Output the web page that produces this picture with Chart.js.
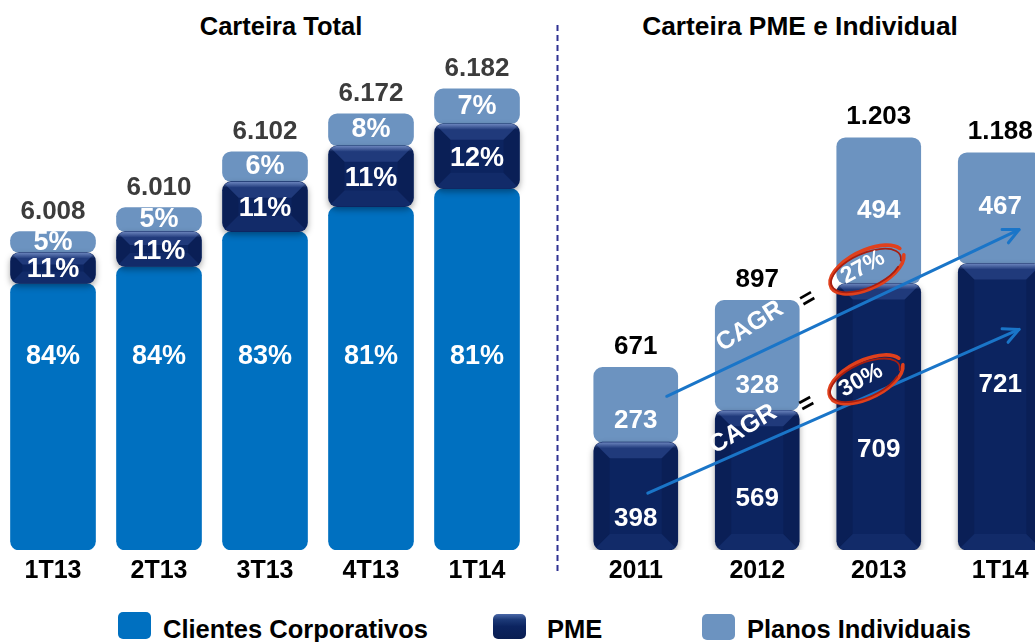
<!DOCTYPE html>
<html><head><meta charset="utf-8">
<script src="https://cdn.jsdelivr.net/npm/chart.js@4/dist/chart.umd.min.js"></script>
<style>
html,body{margin:0;padding:0;background:#fff;width:1035px;height:642px;overflow:hidden;position:relative;font-family:"Liberation Sans",Arial,sans-serif;}
.abs{position:absolute;}
#leftWrap{left:0;top:0;width:530px;height:592px;}
#rightWrap{left:575px;top:0;width:486px;height:592px;}
.title{font-weight:bold;font-size:25.5px;line-height:25px;color:#000;white-space:nowrap;transform:translateX(-50%);top:14px;}
.leg{font-weight:bold;font-size:25.5px;line-height:25px;top:617px;white-space:nowrap;color:#000;}
.box{border-radius:5px;}
</style></head><body>
<div class="abs title" style="left:281px">Carteira Total</div>
<div class="abs title" style="left:800px;font-size:26.3px">Carteira PME e Individual</div>
<div class="abs" id="leftWrap"><canvas id="left"></canvas></div>
<div class="abs" id="rightWrap"><canvas id="right"></canvas></div>
<svg class="abs" style="left:550px;top:0" width="16" height="600"><line x1="7.5" y1="25" x2="7.5" y2="572" stroke="#2e3192" stroke-width="2" stroke-dasharray="6 4"/></svg>
<div class="abs box" style="left:118px;top:612px;width:33px;height:27px;background:#0070C0"></div>
<div class="abs leg" style="left:163px">Clientes Corporativos</div>
<div class="abs box" style="left:493px;top:614px;width:33px;height:25px;background:linear-gradient(to bottom,#4a68a8 0,#1d3a78 22%,#0c2460 50%,#0a1e52 100%)"></div>
<div class="abs leg" style="left:547px">PME</div>
<div class="abs box" style="left:702px;top:614px;width:33px;height:26px;background:#6C93C0"></div>
<div class="abs leg" style="left:747px">Planos Individuais</div>
<script>
// ---------- data: Carteira Total ----------
const periodsTotal = ['1T13','2T13','3T13','4T13','1T14'];
const totalLabels = ['6.008','6.010','6.102','6.172','6.182'];
const corpPct = [84,84,83,81,81];
const pmePct = [11,11,11,11,12];
const indivPct = [5,5,6,8,7];
// bar lengths as drawn in the picture (the original bars are not to scale)
const corpLen = [53.4,56.8,63.8,68.8,72.4];
const pmeLenTotal = [6.2,7.0,10.0,12.2,13.0];
const indivLenTotal = [4.2,4.8,6.0,6.4,7.0];

// ---------- data: Carteira PME e Individual ----------
const periodsPme = ['2011','2012','2013','1T14'];
const pmeValues = [398,569,709,721];
const indivValues = [273,328,494,467];
const pmeLen = [21.6,28.0,53.4,57.4];
const indivLen = [15.0,22.0,29.2,22.2];
const cagrLabels = ['27%','30%'];

const COL_CORP = '#0070C0', COL_PME = '#0C2460', COL_IND = '#6C93C0';
const FONT = '"Liberation Sans", Arial, sans-serif';
const Y_MAX = 110.2;
const CORP_LABEL_LEVEL = 38.8;
// label nudges (px) for the right chart, as placed in the original
const labelNudge = { pme:[23,19,33,-22], indiv:[16,30,0,-1] };

function fmt(n){ return n>=1000 ? Math.floor(n/1000)+'.'+String(n%1000).padStart(3,'0') : String(n); }
function ranges(lens, below){ return lens.map((v,i)=>{ const b = below ? below.reduce((s,arr)=>s+arr[i],0) : 0; return [b, b+v]; }); }
function rr(ctx,x,y,w,h,r){ctx.beginPath();ctx.moveTo(x+r,y);ctx.arcTo(x+w,y,x+w,y+h,r);ctx.arcTo(x+w,y+h,x,y+h,r);ctx.arcTo(x,y+h,x,y,r);ctx.arcTo(x,y,x+w,y,r);ctx.closePath();}
function bevel(ctx,x,y,w,h,r){
  ctx.save(); rr(ctx,x,y,w,h,r); ctx.clip();
  const k=Math.min(16,h/2.6);
  ctx.fillStyle='rgba(80,110,185,0.30)';
  ctx.beginPath();ctx.moveTo(x,y);ctx.lineTo(x+w,y);ctx.lineTo(x+w-k,y+k);ctx.lineTo(x+k,y+k);ctx.closePath();ctx.fill();
  ctx.fillStyle='rgba(0,0,25,0.13)';
  ctx.beginPath();ctx.moveTo(x,y);ctx.lineTo(x+k,y+k);ctx.lineTo(x+k,y+h-k);ctx.lineTo(x,y+h);ctx.closePath();ctx.fill();
  ctx.beginPath();ctx.moveTo(x+w,y);ctx.lineTo(x+w-k,y+k);ctx.lineTo(x+w-k,y+h-k);ctx.lineTo(x+w,y+h);ctx.closePath();ctx.fill();
  ctx.fillStyle='rgba(60,90,160,0.14)';
  ctx.beginPath();ctx.moveTo(x,y+h);ctx.lineTo(x+k,y+h-k);ctx.lineTo(x+w-k,y+h-k);ctx.lineTo(x+w,y+h);ctx.closePath();ctx.fill();
  const g=ctx.createLinearGradient(0,y,0,y+6); g.addColorStop(0,'rgba(160,185,235,0.6)'); g.addColorStop(1,'rgba(160,185,235,0)');
  ctx.fillStyle=g; ctx.fillRect(x,y,w,6);
  ctx.restore();
}
function geom(el){ const p=el.getProps(['x','y','base','width'],true); const t=Math.min(p.y,p.base), b=Math.max(p.y,p.base); return {x:p.x-p.width/2,t,b,w:p.width,cx:p.x,cy:(t+b)/2}; }
function text(ctx,s,x,y,font,color,rot){
  ctx.save(); ctx.translate(x,y); if(rot) ctx.rotate(rot);
  ctx.font=font; ctx.fillStyle=color; ctx.textAlign='center'; ctx.textBaseline='middle'; ctx.fillText(s,0,0); ctx.restore();
}
const pmeStyle = {
  id:'pmeStyle',
  beforeDatasetDraw(chart,args){ if(args.meta.label==='PME'){ const c=chart.ctx; c.save(); c.shadowColor='rgba(0,0,0,0.35)'; c.shadowBlur=6; c.shadowOffsetY=3; } },
  afterDatasetDraw(chart,args){ if(args.meta.label==='PME'){ const c=chart.ctx; c.restore(); args.meta.data.forEach(el=>{ const g=geom(el); bevel(c,g.x,g.t,g.w,g.b-g.t,9); }); } }
};

function baseOptions(){
  return {
    responsive:true, maintainAspectRatio:false, animation:false,
    layout:{padding:0},
    plugins:{legend:{display:false},tooltip:{enabled:false}},
    scales:{
      x:{grid:{display:false,drawTicks:false},border:{display:false},
         ticks:{padding:6,color:'#000',font:{family:FONT,size:25,weight:'bold'}}},
      y:{display:false,min:0,max:Y_MAX}
    }
  };
}
function ds(label,data,color,order,thick){
  return {label,data,backgroundColor:color,order,grouped:false,barThickness:thick,borderRadius:9,borderSkipped:false};
}

// ---------- left chart ----------
new Chart(document.getElementById('left'),{
  type:'bar',
  data:{labels:periodsTotal,datasets:[
    ds('Clientes Corporativos',ranges(corpLen),COL_CORP,2,85),
    ds('PME',ranges(pmeLenTotal,[corpLen]),COL_PME,0,85),
    ds('Planos Individuais',ranges(indivLenTotal,[corpLen,pmeLenTotal]),COL_IND,1,85)
  ]},
  options:baseOptions(),
  plugins:[pmeStyle,{
    id:'leftLabels',
    afterDatasetsDraw(chart){
      const c=chart.ctx, y=chart.scales.y, F='bold 27px '+FONT, FT='bold 26px '+FONT;
      const m0=chart.getDatasetMeta(0).data, m1=chart.getDatasetMeta(1).data, m2=chart.getDatasetMeta(2).data;
      periodsTotal.forEach((_,i)=>{
        const g0=geom(m0[i]), g1=geom(m1[i]), g2=geom(m2[i]);
        text(c,corpPct[i]+'%',g0.cx,y.getPixelForValue(CORP_LABEL_LEVEL),F,'#fff');
        text(c,pmePct[i]+'%',g1.cx,g1.cy+2,F,'#fff');
        text(c,indivPct[i]+'%',g2.cx,g2.cy,F,'#fff');
        text(c,totalLabels[i],g2.cx,g2.t-20,FT,'#3c3c3c');
      });
    }
  }]
});

// ---------- right chart ----------
const arrows = [ // [startIndex,startValue,endIndex,endValue]
  [0.255,30.8,3.155,64.2],
  [0.099,11.4,3.155,44.2]
];
const notes = [ // CAGR text, '=' and circled rate, in data units
  {cagr:[0.939,44.8], eq:[1.417,50.2], rate:[1.870,56.6], ring:[1.903,56.2]},
  {cagr:[0.881,24.2], eq:[1.409,29.2], rate:[1.853,34.0], ring:[1.895,34.2]}
];
new Chart(document.getElementById('right'),{
  type:'bar',
  data:{labels:periodsPme,datasets:[
    ds('PME',ranges(pmeLen),COL_PME,0,84),
    ds('Planos Individuais',ranges(indivLen,[pmeLen]),COL_IND,1,84)
  ]},
  options:baseOptions(),
  plugins:[pmeStyle,{
    id:'rightLabels',
    afterDatasetsDraw(chart){
      const c=chart.ctx, X=chart.scales.x, Y=chart.scales.y, F='bold 26px '+FONT;
      const m1=chart.getDatasetMeta(0).data, m2=chart.getDatasetMeta(1).data;
      periodsPme.forEach((_,i)=>{
        const g1=geom(m1[i]), g2=geom(m2[i]);
        text(c,String(pmeValues[i]),g1.cx,g1.cy+labelNudge.pme[i],F,'#fff');
        text(c,String(indivValues[i]),g2.cx,g2.cy+labelNudge.indiv[i],F,'#fff');
        text(c,fmt(pmeValues[i]+indivValues[i]),g2.cx,g2.t-21,F,'#000');
      });
      arrows.forEach((a,k)=>{
        const x1=X.getPixelForValue(a[0]), y1=Y.getPixelForValue(a[1]), x2=X.getPixelForValue(a[2]), y2=Y.getPixelForValue(a[3]);
        const ang=Math.atan2(y2-y1,x2-x1);
        c.save(); c.strokeStyle='#1a75c8'; c.lineWidth=3; c.lineCap='round'; c.lineJoin='round';
        c.beginPath(); c.moveTo(x1,y1); c.lineTo(x2,y2); c.stroke();
        const L=17, s=0.45;
        c.beginPath(); c.moveTo(x2-L*Math.cos(ang-s),y2-L*Math.sin(ang-s)); c.lineTo(x2,y2); c.lineTo(x2-L*Math.cos(ang+s),y2-L*Math.sin(ang+s)); c.stroke();
        c.restore();
        const n=notes[k], rot=ang-0.08;
        text(c,'CAGR',X.getPixelForValue(n.cagr[0]),Y.getPixelForValue(n.cagr[1]),'bold 25px '+FONT,'#fff',rot-0.04);
        text(c,'=',X.getPixelForValue(n.eq[0]),Y.getPixelForValue(n.eq[1]),'bold 25px '+FONT,'#000',rot);
        const ex=X.getPixelForValue(n.ring[0]), ey=Y.getPixelForValue(n.ring[1]);
        c.save(); c.lineCap='round';
        c.strokeStyle='#e0401c'; c.lineWidth=3.6;
        c.beginPath(); c.ellipse(ex,ey,40,19,-0.45,0.15,2*Math.PI-0.25); c.stroke();
        c.strokeStyle='#a81e10'; c.lineWidth=1.8;
        c.beginPath(); c.ellipse(ex-1,ey+1,37.5,17,-0.42,0.6,2*Math.PI+0.3); c.stroke();
        c.restore();
        text(c,cagrLabels[k],X.getPixelForValue(n.rate[0]),Y.getPixelForValue(n.rate[1]),'bold 23px '+FONT,'#fff',-0.5);
      });
    }
  }]
});
</script>
</body></html>
